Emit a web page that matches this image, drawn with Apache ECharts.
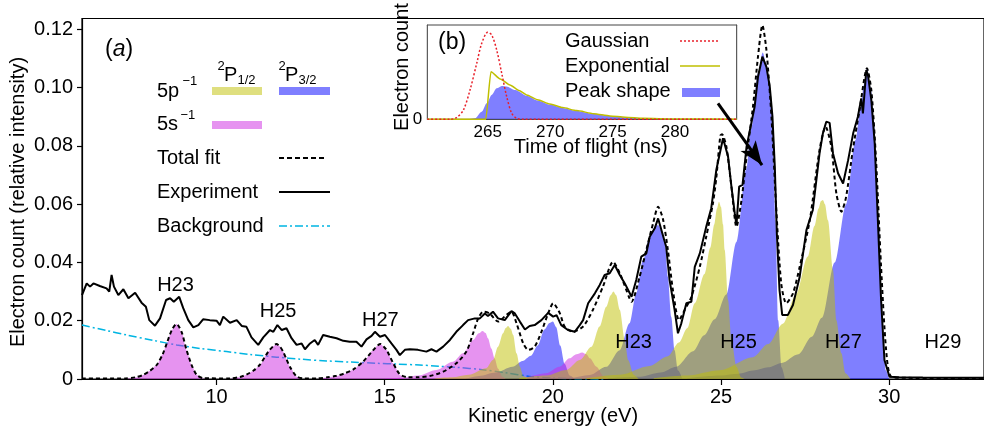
<!DOCTYPE html>
<html><head><meta charset="utf-8">
<script src="https://cdn.jsdelivr.net/npm/echarts@6/dist/echarts.min.js"></script>
<style>html,body{margin:0;padding:0;background:#fff}#c{width:984px;height:428px}</style>
</head><body><div id="c"></div>
<script>
// ---------- main panel data (kinetic energy in eV, electron count) ----------
const xTicks = [10, 15, 20, 25, 30];
const insetTicks = [265, 270, 275, 280];

const experiment = [[6.0,0.0288],[6.14,0.0328],[6.24,0.0317],[6.34,0.0328],[6.53,0.0319],[6.73,0.0311],[6.81,0.03],[6.88,0.0357],[6.95,0.0317],[7.08,0.0288],[7.23,0.0308],[7.38,0.0277],[7.58,0.0296],[7.77,0.0262],[7.9,0.0248],[8.0,0.0202],[8.17,0.0183],[8.32,0.0208],[8.5,0.0271],[8.62,0.0277],[8.73,0.0265],[8.89,0.0282],[9.01,0.0243],[9.16,0.0202],[9.31,0.0177],[9.46,0.0185],[9.6,0.0205],[9.8,0.0202],[10.0,0.02],[10.1,0.0185],[10.2,0.0214],[10.4,0.0193],[10.6,0.0202],[10.75,0.0182],[10.89,0.0179],[11.04,0.0143],[11.24,0.0117],[11.39,0.0143],[11.59,0.0168],[11.69,0.0162],[11.81,0.0185],[11.94,0.0168],[12.08,0.0174],[12.23,0.014],[12.38,0.0117],[12.53,0.0122],[12.63,0.0102],[12.78,0.0122],[12.92,0.0134],[13.02,0.0117],[13.17,0.0151],[13.37,0.0145],[13.57,0.014],[13.77,0.0131],[13.96,0.0128],[14.16,0.0128],[14.31,0.0111],[14.46,0.0136],[14.61,0.0148],[14.71,0.0162],[14.86,0.0145],[15.01,0.0151],[15.2,0.0122],[15.35,0.01],[15.45,0.0082],[15.6,0.01],[15.75,0.0102],[15.99,0.01],[16.24,0.0094],[16.39,0.0102],[16.54,0.0094],[16.74,0.0111],[16.94,0.0134],[17.13,0.0162],[17.33,0.0185],[17.48,0.0202],[17.68,0.0208],[17.83,0.0208],[17.98,0.0225],[18.07,0.0216],[18.22,0.0231],[18.37,0.0208],[18.57,0.0202],[18.77,0.0233],[18.87,0.0225],[19.02,0.0197],[19.17,0.017],[19.31,0.0182],[19.46,0.0185],[19.66,0.0202],[19.86,0.0227],[20.01,0.0214],[20.11,0.0219],[20.25,0.0185],[20.45,0.0168],[20.65,0.0162],[20.8,0.0185],[20.9,0.0202],[21.05,0.026],[21.25,0.0294],[21.39,0.0322],[21.54,0.0357],[21.69,0.0363],[21.84,0.0391],[21.99,0.0357],[22.14,0.0328],[22.34,0.0282],[22.48,0.034],[22.63,0.042],[22.78,0.0431],[22.88,0.0488],[23.03,0.0517],[23.13,0.0551],[23.27,0.0494],[23.37,0.0454],[23.47,0.034],[23.62,0.0237],[23.72,0.0157],[23.82,0.0191],[23.97,0.026],[24.12,0.0265],[24.22,0.0385],[24.37,0.0431],[24.56,0.0522],[24.71,0.0586],[24.86,0.0717],[25.06,0.0826],[25.21,0.0763],[25.31,0.066],[25.41,0.0568],[25.46,0.0528],[25.54,0.066],[25.64,0.0666],[25.76,0.0797],[25.9,0.0877],[26.0,0.0934],[26.1,0.1037],[26.23,0.1106],[26.35,0.1071],[26.45,0.1003],[26.53,0.09],[26.6,0.0728],[26.66,0.05],[26.74,0.0305],[26.82,0.022],[26.99,0.022],[27.14,0.0254],[27.34,0.0351],[27.54,0.0511],[27.73,0.058],[27.93,0.0774],[28.03,0.0843],[28.13,0.0883],[28.23,0.0879],[28.33,0.0774],[28.48,0.0706],[28.63,0.0671],[28.78,0.0751],[28.93,0.0843],[29.07,0.09],[29.17,0.0963],[29.22,0.0911],[29.32,0.106],[29.37,0.1043],[29.47,0.0957],[29.57,0.0809],[29.66,0.0557],[29.76,0.0271],[29.86,0.0065],[30.01,0.0008],[30.3,0.0006],[31.0,0.0005],[32.0,0.0004],[32.82,0.0004]];

const totalFit = [[6.0,0.0002],[7.3,0.0002],[7.6,0.0006],[7.82,0.0014],[8.02,0.0028],[8.22,0.0048],[8.4,0.0085],[8.52,0.0122],[8.67,0.0168],[8.81,0.0189],[8.96,0.0162],[9.11,0.0099],[9.26,0.0048],[9.41,0.0014],[9.6,0.0003],[10.4,0.0002],[10.7,0.0007],[10.89,0.0015],[11.1,0.0029],[11.29,0.0049],[11.54,0.0094],[11.68,0.0112],[11.78,0.012],[11.88,0.0112],[11.98,0.0094],[12.08,0.0068],[12.18,0.0042],[12.38,0.0009],[12.6,0.0002],[13.0,0.0002],[13.3,0.0006],[13.57,0.0011],[13.8,0.0019],[14.06,0.0032],[14.36,0.006],[14.66,0.0099],[14.8,0.0116],[14.88,0.012],[14.98,0.011],[15.06,0.0099],[15.25,0.0055],[15.45,0.0016],[15.7,0.0006],[16.0,0.0006],[16.34,0.001],[16.74,0.0025],[17.13,0.0054],[17.43,0.0094],[17.63,0.0157],[17.78,0.0208],[17.93,0.0231],[18.12,0.0225],[18.37,0.0197],[18.62,0.022],[18.77,0.0231],[18.92,0.0191],[19.12,0.0122],[19.27,0.01],[19.46,0.0111],[19.66,0.0162],[19.86,0.0225],[20.01,0.026],[20.21,0.0225],[20.35,0.018],[20.6,0.0162],[20.9,0.018],[21.19,0.0237],[21.49,0.0317],[21.79,0.0402],[21.99,0.0363],[22.28,0.0277],[22.34,0.0265],[22.58,0.0351],[22.78,0.0443],[22.98,0.0534],[23.13,0.0591],[23.27,0.0551],[23.42,0.0443],[23.57,0.0305],[23.75,0.0202],[23.92,0.0237],[24.12,0.0282],[24.37,0.0385],[24.56,0.0488],[24.76,0.0603],[24.86,0.069],[24.98,0.0835],[25.03,0.084],[25.16,0.0797],[25.31,0.066],[25.46,0.0522],[25.61,0.0614],[25.76,0.0763],[25.95,0.0934],[26.1,0.1106],[26.23,0.1214],[26.35,0.1129],[26.5,0.09],[26.64,0.0591],[26.79,0.0328],[26.94,0.026],[27.14,0.0294],[27.34,0.0385],[27.64,0.0545],[27.93,0.0786],[28.11,0.0866],[28.28,0.0797],[28.43,0.0637],[28.58,0.0574],[28.72,0.0625],[28.92,0.0786],[29.12,0.0923],[29.34,0.1066],[29.47,0.0991],[29.61,0.0751],[29.76,0.0385],[29.91,0.0099],[30.06,0.0008],[30.5,0.0004],[32.82,0.0003]];

const background = [[6.0,0.0185],[6.7,0.0167],[7.33,0.0151],[8.1,0.0133],[8.81,0.0117],[9.5,0.0105],[10.3,0.0094],[11.0,0.0084],[11.79,0.0075],[12.5,0.0068],[13.27,0.0062],[14.0,0.0058],[14.76,0.0054],[15.4,0.0051],[16.04,0.0048],[16.6,0.0044],[17.13,0.004],[17.9,0.0032],[18.62,0.0021],[19.31,0.0009],[20.0,0.0003],[20.8,0.0001],[21.5,0]];

// 5s^-1 peaks
const s5Peak1 = [[7.3,0],[7.6,0.0005],[7.82,0.0014],[8.02,0.0028],[8.22,0.0048],[8.4,0.0085],[8.52,0.0122],[8.67,0.0168],[8.81,0.0189],[8.96,0.0162],[9.11,0.0099],[9.26,0.0048],[9.41,0.0014],[9.56,0.0002],[9.7,0]];
const s5Peak2 = [[10.4,0],[10.7,0.0006],[10.89,0.0014],[11.1,0.0028],[11.29,0.0048],[11.54,0.0094],[11.68,0.0112],[11.78,0.012],[11.88,0.0112],[11.98,0.0094],[12.08,0.0068],[12.18,0.0042],[12.38,0.0008],[12.5,0]];
const s5Peak3 = [[13.0,0],[13.3,0.0005],[13.57,0.001],[13.8,0.0018],[14.06,0.0031],[14.36,0.0059],[14.66,0.0099],[14.8,0.0116],[14.88,0.012],[14.98,0.011],[15.06,0.0099],[15.25,0.0054],[15.45,0.0014],[15.6,0]];
const s5Peak4 = [[15.0,0.0001],[15.5,0.0004],[16.0,0.0012],[16.54,0.0031],[17.03,0.0059],[17.33,0.0088],[17.63,0.0134],[17.8,0.0157],[17.91,0.0165],[18.0,0.0158],[18.07,0.014],[18.17,0.0105],[18.27,0.007],[18.37,0.0035],[18.5,0.0008],[18.6,0]];
const s5Peak5 = [[19.2,0.0005],[19.8,0.002],[20.2,0.0042],[20.5,0.0071],[20.7,0.0085],[20.87,0.0091],[21.0,0.0085],[21.1,0.0071],[21.3,0.0042],[21.5,0.001],[21.65,0]];
// 5p^-1 2P1/2 peaks
const p12Peak1 = [[16.5,0.0002],[17.0,0.0006],[17.5,0.0015],[18.02,0.0037],[18.22,0.0065],[18.37,0.0111],[18.52,0.0157],[18.6,0.0175],[18.67,0.0182],[18.75,0.0172],[18.82,0.0151],[18.92,0.0088],[19.02,0.0042],[19.12,0.001],[19.25,0]];
const p12Peak2 = [[19.0,0.0003],[19.8,0.0012],[20.4,0.0031],[20.8,0.0065],[21.15,0.0111],[21.39,0.018],[21.59,0.0248],[21.72,0.0287],[21.8,0.03],[21.88,0.0288],[21.99,0.0237],[22.14,0.0134],[22.24,0.0065],[22.4,0.0015],[22.55,0]];
const p12Peak3 = [[21.0,0.0003],[22.0,0.0015],[22.88,0.0045],[23.42,0.0078],[23.75,0.0125],[24.0,0.0175],[24.22,0.026],[24.51,0.036],[24.68,0.045],[24.8,0.053],[24.88,0.0585],[24.94,0.0608],[25.0,0.059],[25.06,0.053],[25.11,0.0443],[25.21,0.0271],[25.31,0.0134],[25.46,0.0042],[25.6,0.0005],[25.7,0]];
const p12Peak4 = [[23.0,0.0003],[24.0,0.0012],[24.96,0.003],[25.95,0.0075],[26.4,0.012],[26.84,0.019],[27.23,0.029],[27.58,0.042],[27.78,0.0525],[27.9,0.0585],[27.97,0.061],[28.03,0.0614],[28.09,0.06],[28.18,0.0545],[28.33,0.0374],[28.43,0.0202],[28.58,0.0088],[28.7,0.002],[28.85,0]];
// 5p^-1 2P3/2 peaks
const p32Peak1 = [[17.4,0],[17.8,0.001],[18.3,0.0022],[18.8,0.0042],[19.1,0.0062],[19.35,0.008],[19.55,0.0115],[19.75,0.017],[19.9,0.0192],[20.0,0.0197],[20.1,0.0178],[20.22,0.0115],[20.35,0.0052],[20.5,0.0012],[20.65,0]];
const p32Peak2 = [[19.5,0.0002],[20.5,0.0004],[21.1,0.0014],[21.59,0.0042],[21.99,0.0099],[22.28,0.0191],[22.48,0.0294],[22.68,0.0408],[22.88,0.0488],[23.03,0.0522],[23.13,0.0528],[23.23,0.051],[23.33,0.0475],[23.42,0.0351],[23.52,0.0214],[23.62,0.0099],[23.72,0.003],[23.85,0]];
const p32Peak3 = [[21.5,0.0002],[22.6,0.0008],[23.2,0.0022],[23.67,0.0042],[24.17,0.0095],[24.5,0.015],[24.81,0.0205],[25.16,0.029],[25.46,0.047],[25.75,0.072],[25.9,0.086],[26.1,0.105],[26.24,0.112],[26.35,0.108],[26.45,0.1],[26.53,0.089],[26.62,0.0545],[26.7,0.0202],[26.8,0.004],[26.9,0]];
const p32Peak4 = [[24.0,0.0003],[25.0,0.0012],[25.5,0.0018],[26.0,0.003],[26.4,0.004],[26.8,0.0055],[27.3,0.0085],[27.7,0.0145],[28.0,0.021],[28.38,0.04],[28.72,0.06],[29.0,0.082],[29.15,0.093],[29.25,0.101],[29.34,0.1066],[29.45,0.1],[29.54,0.0889],[29.69,0.0545],[29.79,0.0202],[29.9,0.003],[30.0,0]];

// harmonic labels
const harmonicNames = ['H23', 'H25', 'H27', 'H23', 'H25', 'H27', 'H29'];
const harmonicX = [8.78, 11.83, 14.87, 22.40, 25.52, 28.64, 31.60];
const harmonicY = [0.0321, 0.0232, 0.0202, 0.0125, 0.0125, 0.0125, 0.0125];

// arrow (from inset to peak)
const arrowFrom = [24.91, 0.0946];
const arrowTo = [26.22, 0.0734];

// ---------- inset data (time of flight in ns) ----------
const gaussian = [[260.16,0],[262.0,0],[262.52,0.1],[263.05,0.49],[263.58,1.55],[264.12,2.97],[264.52,4.03],[265.0,4.61],[265.32,4.47],[265.72,3.67],[266.12,2.44],[266.52,1.2],[266.92,0.32],[267.32,0.05],[267.8,0],[284.94,0]];
const exponential = [[260.16,0],[264.84,0],[265.26,2.52],[266.0,2.14],[266.78,1.82],[267.5,1.53],[268.12,1.29],[269.0,1.04],[269.98,0.81],[271.0,0.62],[272.12,0.46],[273.5,0.3],[274.78,0.18],[276.0,0.11],[277.45,0.05],[280.0,0.02],[284.94,0.005]];
const peakShape = [[260.16,0],[263.4,0],[263.98,0.05],[264.52,0.4],[264.92,0.85],[265.32,1.29],[265.72,1.64],[266.12,1.77],[266.5,1.74],[267.2,1.55],[268.12,1.25],[269.0,1.0],[269.98,0.78],[271.0,0.6],[272.12,0.44],[273.5,0.29],[274.78,0.17],[276.0,0.1],[277.45,0.05],[280.0,0.015],[284.94,0]];

// ---------- styles ----------
const FONT = '"Liberation Sans", Arial, sans-serif';
const BLUE = 'rgba(0,0,255,0.5)';
const PINK = 'rgba(205,40,225,0.5)';
const YELLOW = 'rgba(191,191,0,0.5)';
const CYAN = '#00b5e2';

function fill(data, color) {
  return { type: 'line', xAxisIndex: 0, yAxisIndex: 0, data: data, symbol: 'none', smooth: 0.3,
    smoothMonotone: 'x', lineStyle: { width: 0 }, areaStyle: { color: color, opacity: 1 }, silent: true, z: 2 };
}

const chart = echarts.init(document.getElementById('c'), null, { renderer: 'canvas' });

function txt(x, y, text, size, extra) {
  return Object.assign({ type: 'text', x: x, y: y, z: 100,
    style: { text: text, font: size + 'px ' + FONT, fill: '#000', align: 'left', verticalAlign: 'middle',
      textAlign: 'left', textVerticalAlign: 'middle' } }, extra || {});
}
function ctxt(x, y, text, size, rot) {
  return { type: 'text', x: x, y: y, z: 100, rotation: rot || 0,
    style: { text: text, font: size + 'px ' + FONT, fill: '#000', align: 'center', verticalAlign: 'middle',
      textAlign: 'center', textVerticalAlign: 'middle' } };
}

const graphics = [
  // axis titles
  ctxt(18, 202, 'Electron count (relative intensity)', 20, Math.PI / 2),
  ctxt(553, 416, 'Kinetic energy (eV)', 20),
  ctxt(402, 67, 'Electron count', 20, Math.PI / 2),
  ctxt(590.7, 147, 'Time of flight (ns)', 20),
  // panel tags
  { type: 'text', x: 105, y: 50, z: 100, style: { text: '{n|(}{i|a}{n|)}', verticalAlign: 'middle', textVerticalAlign: 'middle',
      rich: { n: { font: '23px ' + FONT, fill: '#000' }, i: { font: 'italic 23px ' + FONT, fill: '#000' } } } },
  txt(438, 43, '(b)', 23),
  // main legend
  txt(157, 91, '5p', 20), txt(182.5, 81, '\u22121', 13),
  txt(217.5, 66, '2', 13), txt(224, 75, 'P', 20), txt(237.5, 80, '1/2', 13),
  txt(278.5, 66, '2', 13), txt(285, 75, 'P', 20), txt(298.5, 80, '3/2', 13),
  txt(157, 124, '5s', 20), txt(180.5, 115, '\u22121', 13),
  txt(157, 158, 'Total fit', 20),
  txt(157, 192, 'Experiment', 20),
  txt(157, 226, 'Background', 20),
  { type: 'rect', z: 100, shape: { x: 212, y: 87, width: 50, height: 8 }, style: { fill: YELLOW } },
  { type: 'rect', z: 100, shape: { x: 279, y: 87, width: 51, height: 8 }, style: { fill: BLUE } },
  { type: 'rect', z: 100, shape: { x: 212, y: 121, width: 50, height: 8 }, style: { fill: PINK } },
  { type: 'line', z: 100, shape: { x1: 279, y1: 158, x2: 327, y2: 158 }, style: { stroke: '#000', lineWidth: 2, lineDash: [5, 3] } },
  { type: 'line', z: 100, shape: { x1: 279, y1: 192, x2: 330, y2: 192 }, style: { stroke: '#000', lineWidth: 2 } },
  { type: 'line', z: 100, shape: { x1: 279, y1: 226, x2: 330, y2: 226 }, style: { stroke: CYAN, lineWidth: 1.5, lineDash: [8, 3, 2, 3] } },
  // inset legend
  txt(565, 41, 'Gaussian', 20),
  txt(565, 66, 'Exponential', 20),
  txt(565, 91, 'Peak shape', 20),
  { type: 'line', z: 100, shape: { x1: 680, y1: 41, x2: 720, y2: 41 }, style: { stroke: '#e8202a', lineWidth: 1.5, lineDash: [2, 2] } },
  { type: 'line', z: 100, shape: { x1: 680, y1: 66, x2: 720, y2: 66 }, style: { stroke: '#bfbf00', lineWidth: 1.5 } },
  { type: 'rect', z: 100, shape: { x: 682, y: 88, width: 38, height: 9 }, style: { fill: BLUE } }
];

const option = {
  animation: false,
  backgroundColor: '#fff',
  textStyle: { fontFamily: FONT },
  grid: [
    { left: 82, top: 18.5, right: -2, bottom: 49, show: true, borderColor: '#000', borderWidth: 1.2, backgroundColor: 'transparent', z: 0 },
    { left: 427.3, top: 25, width: 309.4, height: 94.3, show: true, borderColor: '#444', borderWidth: 1, backgroundColor: '#fff', z: 1 }
  ],
  xAxis: [
    { gridIndex: 0, type: 'value', min: 6, max: 32.82,
      axisLine: { onZero: false, lineStyle: { color: '#000', width: 1.2 } },
      axisTick: { customValues: xTicks, length: 6, inside: false, lineStyle: { color: '#000', width: 1.2 } },
      axisLabel: { customValues: xTicks, margin: 8, color: '#000', fontSize: 20, fontFamily: FONT },
      splitLine: { show: false } },
    { gridIndex: 1, type: 'value', min: 260.16, max: 284.94,
      axisLine: { onZero: false, lineStyle: { color: '#444', width: 1 } },
      axisTick: { customValues: insetTicks, length: 4, inside: true, lineStyle: { color: '#444' } },
      axisLabel: { customValues: insetTicks, margin: 5, color: '#000', fontSize: 17, fontFamily: FONT },
      splitLine: { show: false } },
    { gridIndex: 1, type: 'value', position: 'top', min: 260.16, max: 284.94,
      axisLine: { onZero: false, lineStyle: { color: '#444', width: 1 } },
      axisTick: { customValues: insetTicks, length: 4, inside: true, lineStyle: { color: '#444' } },
      axisLabel: { show: false }, splitLine: { show: false } }
  ],
  yAxis: [
    { gridIndex: 0, type: 'value', min: 0, max: 0.1237, interval: 0.02,
      axisLine: { show: true, onZero: false, lineStyle: { color: '#000', width: 1.2 } },
      axisTick: { show: true, length: 5, inside: false, lineStyle: { color: '#000', width: 1.2 } },
      axisLabel: { margin: 9, color: '#000', fontSize: 20, fontFamily: FONT,
        formatter: v => (v === 0 ? '0' : v.toFixed(2)) },
      splitLine: { show: false } },
    { gridIndex: 1, type: 'value', min: 0, max: 5, interval: 1,
      axisLine: { show: true, onZero: false, lineStyle: { color: '#444', width: 1 } },
      axisTick: { show: true, length: 4, inside: true, lineStyle: { color: '#444' } },
      axisLabel: { margin: 5, color: '#000', fontSize: 17, fontFamily: FONT, formatter: v => (v === 0 ? '0' : '') },
      splitLine: { show: false } },
    { gridIndex: 1, type: 'value', position: 'right', min: 0, max: 5, interval: 1,
      axisLine: { show: true, onZero: false, lineStyle: { color: '#444', width: 1 } },
      axisTick: { show: true, length: 4, inside: true, lineStyle: { color: '#444' } },
      axisLabel: { show: false }, splitLine: { show: false } }
  ],
  series: [
    { type: 'line', name: 'Background', xAxisIndex: 0, yAxisIndex: 0, data: background, symbol: 'none', smooth: 0.3,
      lineStyle: { color: CYAN, width: 1.5, type: [8, 3, 2, 3] }, z: 1, silent: true },
    fill(p32Peak1, BLUE), fill(p32Peak2, BLUE), fill(p32Peak3, BLUE), fill(p32Peak4, BLUE),
    fill(s5Peak1, PINK), fill(s5Peak2, PINK), fill(s5Peak3, PINK), fill(s5Peak4, PINK), fill(s5Peak5, PINK),
    fill(p12Peak1, YELLOW), fill(p12Peak2, YELLOW), fill(p12Peak3, YELLOW), fill(p12Peak4, YELLOW),
    { type: 'line', name: 'Total fit', xAxisIndex: 0, yAxisIndex: 0, data: totalFit, symbol: 'none', smooth: 0.25,
      lineStyle: { color: '#000', width: 2, type: [4, 3] }, z: 3, silent: true },
    { type: 'line', name: 'Experiment', xAxisIndex: 0, yAxisIndex: 0, data: experiment, symbol: 'none',
      lineStyle: { color: '#000', width: 2 }, z: 4, silent: true,
      markLine: { silent: true, symbol: ['none', 'arrow'], symbolSize: [14, 24], label: { show: false },
        lineStyle: { color: '#000', width: 3, type: 'solid' }, z: 20,
        data: [[{ coord: arrowFrom }, { coord: arrowTo }]] } },
    // inset
    { type: 'line', xAxisIndex: 1, yAxisIndex: 1, data: peakShape, symbol: 'none', smooth: 0.3, smoothMonotone: 'x',
      lineStyle: { width: 0 }, areaStyle: { color: BLUE, opacity: 1 }, z: 6, silent: true },
    { type: 'line', xAxisIndex: 1, yAxisIndex: 1, data: exponential, symbol: 'none', smooth: 0.2, smoothMonotone: 'x',
      lineStyle: { color: '#bfbf00', width: 1.5 }, z: 7, silent: true },
    { type: 'line', xAxisIndex: 1, yAxisIndex: 1, data: gaussian, symbol: 'none', smooth: 0.3,
      lineStyle: { color: '#e8202a', width: 1.5, type: [2, 2] }, z: 8, silent: true }
  ],
  graphic: { elements: graphics }
};
chart.setOption(option);

// harmonic labels placed through the main grid's coordinate system
const hLabels = harmonicNames.map((n, i) => {
  const p = chart.convertToPixel({ gridIndex: 0 }, [harmonicX[i], harmonicY[i]]);
  return ctxt(p[0], p[1], n, 20);
});
chart.setOption({ graphic: { elements: graphics.concat(hLabels) } });
</script></body></html>
